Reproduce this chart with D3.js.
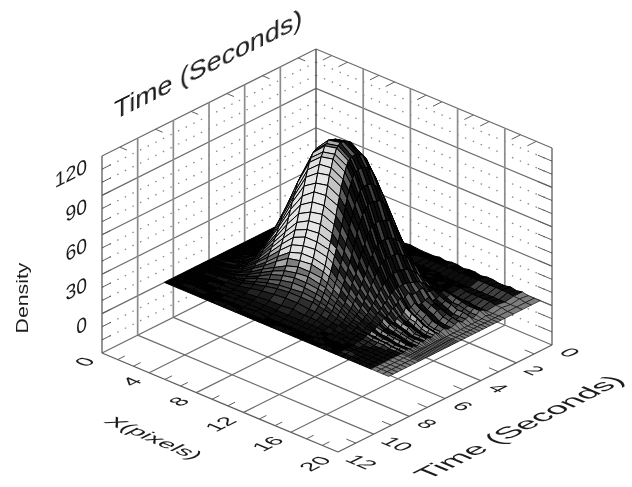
<!DOCTYPE html>
<html>
<head>
<meta charset="utf-8">
<script src="https://d3js.org/d3.v7.min.js"></script>
<style>
  html, body { margin: 0; padding: 0; background: #fff; }
  text { font-family: "Liberation Sans", Arial, sans-serif; fill: #1c1c1c; }
</style>
</head>
<body>
<div id="chart_area"></div>
<script>
// tick labels
var xTicks = [0, 4, 8, 12, 16, 20];
var timeTicks = [0, 2, 4, 6, 8, 10, 12];
var densityTicks = [0, 30, 60, 90, 120];

// sample positions of the surface mesh
var xPixels = [0,1,2,3,4,5,6,7,8,9,10,10.5,11,11.5,12,12.5,13,13.5,14,14.5,15,15.5,16,16.5,17,17.5,18,18.5,19];
var timeSeconds = [0,0.5,1,1.5,2,2.2,2.4,2.6,2.8,3,3.2,3.4,3.6,3.8,4,4.2,4.4,4.6,4.7,4.8,4.9,5,5.1,5.2,5.3,5.4,5.5,5.6,5.7,5.8,5.9,6,6.1,6.2,6.3,6.4,6.5,6.6,6.7,6.8,7,7.25,7.5,7.75,8,8.25,8.5];

// density per time row
var density = [
[0,1,0,1,0,0,1,0,1,0,0,1,0,1,1,0,1,1,0,1,1,0,0,1,0,1,0,0,0],
[1,0,1,0,1,1,0,1,0,1,2,2,2,2,2,2,2,2,2,2,2,2,2,2,2,1,1,0,0],
[0,0,0,0,0,1,1,1,1,1,1,1,1,1,1,0,0,0,0,0,0,0,0,0,0,0,0,0,0],
[1,0,1,1,2,3,4,5,5,6,5,5,5,4,4,3,3,3,3,3,2,2,2,2,2,1,1,0,0],
[0,0,1,2,4,7,10,12,13,14,13,12,11,9,8,6,5,4,3,2,1,1,1,0,0,0,0,0,0],
[0,0,1,3,6,10,15,18,20,20,19,18,16,14,12,9,7,6,4,5,4,3,3,2,2,2,0,0,0],
[0,0,1,4,9,15,21,27,29,29,28,26,23,20,17,14,11,8,6,7,6,5,4,3,3,3,1,0,0],
[0,0,2,6,12,20,28,36,39,40,37,35,31,27,22,18,14,11,8,7,5,3,3,2,1,1,0,0,0],
[0,0,2,7,16,26,37,47,51,52,49,46,40,35,29,24,19,14,11,7,5,3,2,1,0,0,0,0,0],
[0,1,3,9,20,33,47,59,64,66,62,57,51,45,37,30,24,18,13,12,9,7,6,4,4,3,0,0,0],
[0,1,3,11,23,39,56,70,77,78,74,68,61,53,44,36,28,21,16,12,8,6,4,2,2,2,0,0,0],
[0,1,4,13,27,45,64,81,88,89,85,78,70,61,51,41,32,24,18,13,8,6,4,2,1,1,0,0,0],
[0,1,4,14,30,50,70,89,97,98,93,86,77,67,56,45,36,27,20,17,12,9,7,5,4,3,0,0,0],
[0,1,5,15,32,53,75,95,103,105,100,92,82,72,60,48,38,29,21,17,11,9,7,4,3,2,0,0,0],
[0,1,5,16,33,55,79,99,108,110,104,96,85,75,62,50,40,30,22,16,10,7,5,2,1,1,0,0,0],
[0,1,5,16,34,56,80,101,110,112,106,98,87,76,63,51,41,31,23,16,10,7,5,2,1,1,0,0,0],
[0,1,5,16,34,57,81,102,111,113,107,99,88,77,64,52,41,31,23,19,13,10,8,5,4,3,0,0,0],
[0,1,5,16,34,57,81,102,112,114,107,99,88,77,64,52,41,31,23,17,11,8,6,3,2,2,0,0,0],
[0,1,5,16,34,56,80,101,110,112,106,98,87,76,63,51,41,31,23,16,10,7,5,2,1,1,0,0,0],
[0,1,5,16,33,56,79,100,109,111,105,97,86,75,63,51,40,30,23,18,12,9,7,4,3,2,0,0,0],
[0,1,5,15,32,54,77,97,105,107,102,94,84,73,61,49,39,29,22,18,13,10,8,5,4,3,0,0,0],
[0,1,5,15,31,52,75,94,102,104,98,91,81,71,59,48,38,29,21,16,10,7,6,3,2,2,0,0,0],
[0,1,4,14,30,50,70,89,97,98,93,86,77,67,56,45,36,27,20,14,9,6,4,2,1,1,0,0,0],
[0,1,4,13,28,47,66,84,91,93,88,81,72,63,52,43,34,25,19,13,8,6,4,2,1,1,0,0,0],
[0,1,4,12,26,43,62,78,84,86,81,75,67,59,49,40,31,24,17,13,9,6,5,3,2,2,0,0,0],
[0,1,4,11,24,40,57,71,78,79,75,69,62,54,45,36,29,22,16,12,8,6,5,2,2,2,0,0,0],
[0,1,3,10,22,36,52,65,71,72,68,63,56,49,41,33,26,20,15,10,6,4,3,1,1,1,0,0,0],
[0,1,3,9,20,33,47,59,64,66,62,57,51,45,37,30,24,18,13,9,6,4,3,1,1,1,0,0,0],
[0,1,3,8,18,30,42,53,58,59,56,51,46,40,33,27,21,16,12,9,6,5,4,2,2,2,0,0,0],
[0,0,2,8,16,27,38,48,52,53,50,47,41,36,30,24,19,15,11,9,6,4,3,2,1,1,0,0,0],
[0,0,2,7,14,24,34,43,47,47,45,42,37,32,27,22,17,13,10,7,4,3,2,1,0,0,0,0,0],
[0,0,2,6,13,21,30,38,41,42,40,37,33,28,24,19,15,11,9,6,4,3,2,1,0,0,0,0,0],
[0,0,2,5,11,18,26,33,36,36,34,32,28,25,20,17,13,10,7,6,4,3,3,2,1,1,0,0,0],
[0,0,1,4,10,16,23,29,31,32,30,28,25,22,18,15,11,9,6,5,4,3,2,2,1,1,0,0,0],
[0,0,1,4,8,14,19,24,27,27,26,24,21,18,15,12,10,7,6,4,2,2,1,0,0,0,0,0,0],
[0,0,1,3,7,12,17,21,23,24,22,21,18,16,13,11,9,7,5,4,3,2,2,1,1,1,0,0,0],
[0,0,1,3,6,10,15,18,20,20,19,18,16,14,12,9,7,6,4,4,3,2,2,1,1,1,0,0,0],
[0,0,1,2,5,9,12,15,17,17,16,15,13,12,10,8,6,5,3,2,2,1,1,0,0,0,0,0,0],
[0,0,1,2,4,7,10,12,13,14,13,12,11,9,8,6,5,4,3,3,2,2,2,1,1,0,0,0,0],
[0,0,1,2,3,6,8,10,11,11,11,10,9,8,6,5,4,3,2,2,1,1,1,0,0,0,0,0,0],
[0,0,0,1,2,4,6,7,8,8,7,7,6,5,4,4,3,2,2,1,1,0,0,0,0,0,0,0,0],
[0,0,0,1,1,2,3,4,4,5,4,4,4,3,3,2,2,1,1,1,0,0,0,0,0,0,0,0,0],
[0,0,0,0,1,1,2,2,2,2,2,2,2,2,1,1,1,1,0,0,0,0,0,0,0,0,0,0,0],
[0,0,0,0,0,1,1,1,1,1,1,1,1,1,1,1,0,0,0,0,0,0,0,0,0,0,0,0,0],
[0,0,1,0,0,0,0,1,0,0,0,0,0,0,0,1,0,0,0,0,1,0,0,0,0,0,0,0,0],
[0,0,0,0,0,1,0,0,0,0,1,0,0,0,0,0,0,1,0,0,0,0,0,0,0,0,0,0,0],
[0,0,0,0,0,0,0,0,0,0,0,0,0,0,0,0,0,0,0,0,0,0,0,0,0,0,0,0,0]
];

var frame_width = 632;
var frame_height = 487;

var svg = d3.select("#chart_area").append("svg")
	.attr("width", frame_width)
	.attr("height", frame_height)
	.style("display", "block");

// the reference is a soft scan, blur everything a little
svg.append("filter").attr("id", "soft")
	.append("feGaussianBlur").attr("stdDeviation", 0.6);
var canvas = svg.append("g").attr("filter", "url(#soft)");

// oblique projection: each scale gives a pixel offset along one edge of the box
var leftCorner = [102, 353];
var xEdge = {dx: d3.scaleLinear().domain([0, 20]).range([0, 236]), dy: d3.scaleLinear().domain([0, 20]).range([0, 99])};
var tEdge = {dx: d3.scaleLinear().domain([12, 0]).range([0, 214]), dy: d3.scaleLinear().domain([12, 0]).range([0, -107])};
var zEdge = d3.scaleLinear().domain([-30, 120]).range([0, -197]);
var zMax = 120, zMin = -30;

function project(x, t, z) {
	return [
		leftCorner[0] + xEdge.dx(x) + tEdge.dx(t),
		leftCorner[1] + xEdge.dy(x) + tEdge.dy(t) + zEdge(z)
	];
}

var line = d3.line();

function drawLine(group, a, b, color, width, dash) {
	group.append("path")
		.attr("d", line([a, b]))
		.attr("fill", "none")
		.attr("stroke", color)
		.attr("stroke-width", width)
		.attr("stroke-dasharray", dash || null);
}

//////////////////////WALLS AND FLOOR//////////////////////////
var grid = canvas.append("g").attr("class", "grid");

var gridGrey = "#6c6c6c";
var postGrey = "#8c8c8c";
var dotGrey = "#8a8a8a";

// dotted minor rows on both walls
d3.range(-20, 120, 10).filter(function(z) { return (z + 30) % 30 != 0; }).forEach(function(z) {
	drawLine(grid, project(0, 12, z), project(0, 0, z), dotGrey, 1.3, "1.5 7");
	drawLine(grid, project(0, 0, z), project(20, 0, z), dotGrey, 1.3, "1.5 7");
});

// solid rows on both walls
d3.range(-30, 121, 30).forEach(function(z) {
	drawLine(grid, project(0, 12, z), project(0, 0, z), gridGrey, 1.2);
	drawLine(grid, project(0, 0, z), project(20, 0, z), gridGrey, 1.2);
});

// posts on both walls
timeTicks.slice(1, -1).forEach(function(t) {
	drawLine(grid, project(0, t, zMin), project(0, t, zMax), postGrey, 1.7);
	drawLine(grid, project(0, t, zMin), project(20, t, zMin), gridGrey, 1.2);
});
xTicks.slice(1, -1).forEach(function(x) {
	drawLine(grid, project(x, 0, zMin), project(x, 0, zMax), postGrey, 1.7);
	drawLine(grid, project(x, 12, zMin), project(x, 0, zMin), gridGrey, 1.2);
});
drawLine(grid, project(0, 0, zMin), project(0, 0, zMax), "#5a5a5a", 1.5);

// outer edges of the box
var edgeGrey = "#5e5e5e";
drawLine(grid, project(0, 12, zMin), project(0, 12, zMax), edgeGrey, 1.3);
drawLine(grid, project(20, 0, zMin), project(20, 0, zMax), edgeGrey, 1.3);
drawLine(grid, project(0, 12, zMin), project(20, 12, zMin), edgeGrey, 1.3);
drawLine(grid, project(20, 12, zMin), project(20, 0, zMin), edgeGrey, 1.3);

// small ticks pointing into the box
d3.range(0, 20, 4).forEach(function(x) {
	[x + 4/3, x + 8/3].forEach(function(m) {
		drawLine(grid, project(m, 12, zMin), project(m, 11.6, zMin), edgeGrey, 1);
		drawLine(grid, project(m, 0, zMax), project(m, 0.5, zMax), edgeGrey, 1);
	});
});
d3.range(1, 12, 2).forEach(function(t) {
	drawLine(grid, project(20, t, zMin), project(19.2, t, zMin), edgeGrey, 1);
	drawLine(grid, project(0, t, zMax), project(0.6, t, zMax), edgeGrey, 1);
});
d3.range(-20, 120, 10).forEach(function(z) {
	drawLine(grid, project(0, 12, z), project(0, 11.5, z), edgeGrey, 1);
	drawLine(grid, project(20, 0, z), project(18.8, 0, z), edgeGrey, 1);
});

//////////////////////SURFACE//////////////////////////
var shade = d3.scaleLinear().domain([0, 1]).range(["#040404", "#f6f6f6"]).clamp(true);

// one quad per mesh cell, back corner first so nearer cells paint over
var cells = [];
timeSeconds.slice(0, -1).forEach(function(t, i) {
	xPixels.slice(0, -1).forEach(function(x, j) {
		var x2 = xPixels[j + 1], t2 = timeSeconds[i + 1];
		var z00 = density[i][j], z01 = density[i][j + 1], z10 = density[i + 1][j], z11 = density[i + 1][j + 1];
		var level = (z00 + z01 + z10 + z11) / 4;
		var faceT = ((z00 + z01) - (z10 + z11)) / 2 / (t2 - t);
		var faceX = ((z00 + z10) - (z01 + z11)) / 2 / (x2 - x);
		var light = 0.05 + 0.9 * (1 - Math.exp(-Math.max(faceT, 0) / 16));
		light *= Math.exp(-Math.max(faceX, 0) / 30);
		// low ground round the foot of the hill prints nearly black and speckled
		if (level < 30 && x < 14.5) light *= (0.2 + level / 30 * 0.8) * ((i + j) % 2 ? 0.9 : 0.6);
		// the right flank is tight black lines with small pale gaps, blackest where steepest
		if (faceX > 6) light = (i + j) % 2 ? 0.36 : 0.1;
		if (faceX > 14) light = (i + j) % 3 ? 0.03 : 0.24;
		cells.push({
			x: x,
			corners: [project(x, t, z00), project(x2, t, z01), project(x2, t2, z11), project(x, t2, z10)],
			light: x >= 17.5 ? 0.5 : light
		});
	});
});

canvas.append("g").attr("class", "surface")
	.selectAll("path")
	.data(cells)
	.enter()
	.append("path")
	.attr("d", function(d) { return line(d.corners) + "Z"; })
	.attr("fill", function(d) { return shade(d.light); })
	.attr("stroke", "#000")
	.attr("stroke-width", function(d) { return d.x >= 17.5 ? 0.6 : 1; })
	.attr("stroke-linejoin", "round");

//////////////////////LABELS//////////////////////////
var labels = svg.append("g").attr("class", "labels").attr("filter", "url(#soft)");

var tDir = [0.894, -0.447];
var xDir = [0.922, 0.387];
var xBack = [-0.922, -0.387];
var zDir = [0, -1];

// text laid into a plane of the box: base runs along the text, up is the glyph's up
function planeText(str, pos, base, up, sb, su, size, anchor) {
	labels.append("text")
		.attr("transform", "matrix(" + [base[0]*sb, base[1]*sb, -up[0]*su, -up[1]*su, pos[0], pos[1]].join(",") + ")")
		.attr("text-anchor", anchor)
		.attr("dy", "0.35em")
		.attr("font-size", size)
		.text(str);
}

densityTicks.forEach(function(z) {
	var p = project(0, 12, z);
	planeText(z, [p[0] - 15, p[1] + 9], tDir, zDir, 1.55, 1.45, 14, "end");
});
xTicks.forEach(function(x) {
	var p = project(x, 12, zMin);
	planeText(x, [p[0] - 12, p[1] + 6], tDir, xBack, 1.6, 1.45, 14, "end");
});
timeTicks.forEach(function(t) {
	var p = project(20, t, zMin);
	planeText(t, [p[0] + 12, p[1] + 5], xDir, tDir, 1.6, 1.45, 14, "start");
});

planeText("Time (Seconds)", [208, 64], tDir, zDir, 1.5, 1.25, 20, "middle");
planeText("X(pixels)", [154, 438], xDir, tDir, 1.8, 1.4, 14, "middle");
planeText("Time (Seconds)", [519, 427], tDir, xBack, 1.58, 1.3, 20, "middle");
planeText("Density", [22, 298], [0, -1], [-1, 0], 1.25, 1, 17, "middle");
</script>
</body>
</html>
